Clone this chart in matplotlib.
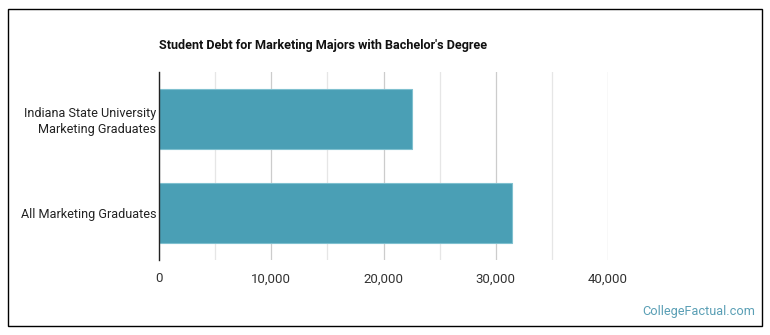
import matplotlib.pyplot as plt
from matplotlib.patches import Rectangle
from matplotlib.ticker import FuncFormatter, MultipleLocator

plt.rcParams['font.family'] = ['Roboto', 'DejaVu Sans']

# data
labels = ['Indiana State University\nMarketing Graduates', 'All Marketing Graduates']
debt = [22530, 31430]
ticks = [0, 10000, 20000, 30000, 40000]

fig = plt.figure(figsize=(7.7, 3.35), dpi=100)
fig.patches.append(Rectangle((8 / 770, 9 / 335), 754 / 770, 317 / 335, transform=fig.transFigure,
                             fill=False, edgecolor='black', linewidth=1.0))

ax = fig.add_axes([159 / 770, 1 - 260 / 335, (608 - 159) / 770, (260 - 72) / 335])
ypos = [0, 1]
ax.barh(ypos, debt, height=0.63, color='#4a9fb5', edgecolor='#7fc0cf', linewidth=0.8, zorder=3)
ax.set_ylim(1.5, -0.5)
ax.set_xlim(0, 40000)
ax.set_yticks(ypos)
ax.set_yticklabels(labels, fontsize=9.1, color='#222222', linespacing=1.3)
ax.set_xticks(ticks)
ax.xaxis.set_major_formatter(FuncFormatter(lambda v, p: f'{int(v):,}'))
ax.xaxis.set_minor_locator(MultipleLocator(5000))
ax.tick_params(axis='x', which='both', length=0, labelsize=9.5, labelcolor='#333333', pad=9)
ax.tick_params(axis='y', length=0, pad=2)
ax.grid(axis='x', which='major', color='#cccccc', linewidth=0.9, zorder=0)
ax.grid(axis='x', which='minor', color='#e6e6e6', linewidth=0.9, zorder=0)
for s in ['top', 'right', 'bottom']:
    ax.spines[s].set_visible(False)
ax.spines['left'].set_color('#222222')
ax.spines['left'].set_linewidth(1.0)
ax.spines['left'].set_zorder(4)

fig.text(159 / 770, 1 - 45 / 335, "Student Debt for Marketing Majors with Bachelor's Degree",
         fontsize=9.1, fontweight='bold', va='center', ha='left', color='#111111')
fig.text(755 / 770, 1 - 312 / 335, 'CollegeFactual.com', fontsize=9.2, color='#5a9fb5',
         ha='right', va='center')

fig.savefig('out.png', dpi=100)
